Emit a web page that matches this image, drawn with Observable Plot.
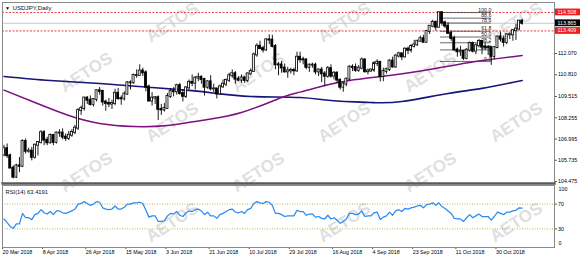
<!DOCTYPE html>
<html><head><meta charset="utf-8">
<script src="https://cdn.jsdelivr.net/npm/d3@7"></script>
<script src="https://cdn.jsdelivr.net/npm/@observablehq/plot@0.6"></script>
<style>
html,body{margin:0;padding:0;background:#fff;}
#wrap{position:relative;width:580px;height:258px;overflow:hidden;background:#fff;}
#wrap svg{position:absolute;left:0;top:0;}
</style></head><body><div id="wrap"></div>
<script>
// ---------- data ----------
const symbol = "USDJPY,Daily";
const startDate = "2018-03-20";
const open = [106.05,106.42,106.00,105.27,104.73,105.40,105.38,106.85,106.27,106.28,
105.91,106.63,106.79,107.37,106.93,106.77,107.21,106.79,107.35,107.35,
107.11,107.03,107.22,107.38,107.64,108.68,108.80,109.43,109.30,109.04,
109.34,109.86,109.82,109.19,109.11,109.07,109.11,109.71,109.39,109.38,
109.66,110.33,110.33,110.76,110.77,111.03,110.92,110.08,109.25,109.42,
109.45,108.75,108.72,108.81,109.52,109.81,109.80,110.16,109.69,109.53,
110.03,110.36,110.31,110.61,110.66,110.53,110.07,110.39,109.97,109.97,
109.67,110.09,110.25,110.48,110.75,110.87,110.55,110.49,110.62,110.47,
110.86,111.01,111.99,112.50,112.36,112.28,112.88,112.87,112.49,111.40,
111.39,111.21,110.98,111.04,111.06,111.04,111.85,111.70,111.69,111.25,
111.38,111.38,110.98,111.09,110.86,110.72,111.17,110.73,110.90,110.49,
110.07,110.26,110.55,111.26,111.24,111.07,111.20,111.69,110.99,111.03,
111.09,111.47,111.55,110.70,111.00,111.11,111.62,111.27,111.92,112.05,
111.87,112.33,112.26,112.49,112.58,112.80,112.95,112.74,113.38,113.69,
113.92,113.63,114.49,113.89,113.70,113.26,112.96,112.28,112.17,112.20,
111.78,112.27,112.66,112.21,112.53,112.79,112.45,112.43,112.42,111.90,
112.42,113.05,112.92,112.72,113.18,113.18,113.43,113.52,113.99];
const high = [106.62,106.70,106.10,105.40,105.50,105.90,106.95,107.00,106.45,106.50,
106.70,106.85,107.49,107.50,107.10,107.30,107.25,107.40,107.55,107.60,
107.30,107.45,107.55,107.80,108.80,108.95,109.45,109.50,109.55,109.40,
109.90,110.05,109.90,109.30,109.40,109.30,109.95,110.00,109.55,109.80,
110.40,110.45,110.85,111.10,111.40,111.20,111.05,110.20,109.75,109.50,
109.55,109.05,109.10,109.70,110.00,110.05,110.25,110.30,109.90,110.10,
110.50,110.80,110.70,110.90,110.75,110.60,110.45,110.75,110.25,110.00,
110.20,110.50,110.55,110.90,111.10,111.00,110.70,110.80,110.70,110.90,
111.15,112.10,112.65,112.80,112.50,112.95,113.18,113.15,112.60,111.55,
111.60,111.45,111.25,111.20,111.20,112.15,112.15,111.85,111.75,111.45,
111.50,111.50,111.15,111.25,111.00,111.30,111.40,111.00,111.00,110.55,
110.35,110.60,111.35,111.40,111.45,111.35,111.80,111.75,111.15,111.15,
111.60,111.70,111.60,111.20,111.20,111.70,111.85,112.00,112.15,112.10,
112.40,112.45,112.60,112.85,112.85,113.10,113.15,113.45,113.70,114.05,
114.00,114.55,114.55,114.00,113.90,113.40,113.10,112.40,112.50,112.25,
112.35,112.75,112.75,112.65,112.90,112.85,112.70,112.55,112.45,112.45,
113.10,113.35,113.10,113.25,113.30,113.50,113.80,114.05,114.10];
const low = [105.95,105.85,105.25,104.63,104.65,105.00,105.30,106.10,106.15,105.70,
105.80,105.99,106.70,106.60,106.60,106.70,106.60,106.70,107.10,106.95,
106.85,106.90,107.10,107.25,107.50,108.40,108.65,109.05,108.95,108.90,
109.20,109.60,108.95,108.65,108.85,108.75,108.98,109.30,109.00,109.25,
109.60,109.90,110.25,110.60,110.75,110.70,109.80,109.20,108.95,109.05,
108.10,108.40,108.60,108.75,109.40,109.50,109.60,109.60,109.20,109.40,
109.90,110.10,109.90,110.40,110.25,109.55,109.95,109.85,109.75,109.37,
109.60,110.00,110.10,110.35,110.60,110.25,110.40,110.30,110.30,110.35,
110.75,110.95,111.85,112.30,112.10,112.20,112.60,112.40,111.10,110.75,
110.90,110.90,110.60,110.85,110.75,110.95,111.50,111.40,111.10,110.95,
111.20,110.80,110.70,110.35,110.10,110.60,110.60,110.50,110.30,109.90,
109.77,110.10,110.45,111.00,110.95,110.95,111.10,110.90,110.80,110.95,
110.95,111.30,110.38,110.40,110.85,111.00,111.20,111.20,111.80,111.65,
111.80,112.00,112.10,112.40,112.50,112.75,112.70,112.70,113.20,113.60,
113.40,113.60,113.70,113.55,113.20,112.80,112.20,111.85,111.90,111.65,
111.70,112.15,112.10,112.00,112.40,112.00,112.25,111.95,111.37,111.70,
112.35,112.75,112.45,112.60,112.90,112.80,112.85,113.40,113.75];
const close = [106.42,106.00,105.27,104.73,105.40,105.38,106.85,106.27,106.28,105.91,
106.63,106.79,107.37,106.93,106.77,107.21,106.79,107.35,107.35,107.11,
107.03,107.22,107.38,107.64,108.68,108.80,109.43,109.30,109.04,109.34,
109.86,109.82,109.19,109.11,109.07,109.11,109.71,109.39,109.38,109.66,
110.33,110.33,110.76,110.77,111.03,110.92,110.08,109.25,109.42,109.45,
108.75,108.72,108.81,109.52,109.81,109.80,110.16,109.69,109.53,110.03,
110.36,110.31,110.61,110.66,110.53,110.07,110.39,109.97,109.97,109.67,
110.09,110.25,110.48,110.75,110.87,110.55,110.49,110.62,110.47,110.86,
111.01,111.99,112.50,112.36,112.28,112.88,112.87,112.49,111.40,111.39,
111.21,110.98,111.04,111.06,111.04,111.85,111.70,111.69,111.25,111.38,
111.38,110.98,111.09,110.86,110.72,111.17,110.73,110.90,110.49,110.07,
110.26,110.55,111.26,111.24,111.07,111.20,111.69,110.99,111.03,111.09,
111.47,111.55,110.70,111.00,111.11,111.62,111.27,111.92,112.05,111.87,
112.33,112.26,112.49,112.58,112.80,112.95,112.74,113.38,113.69,113.92,
113.63,114.49,113.89,113.70,113.26,112.96,112.28,112.17,112.20,111.78,
112.27,112.66,112.21,112.53,112.79,112.45,112.43,112.42,111.90,112.42,
113.05,112.92,112.72,113.18,113.18,113.43,113.52,113.99,113.865];

const purpleBars = [0,10,21,31,42,53,64,77,90,96,104,112,125,138,151,168];
const purpleVals = [109.90,109.16,108.39,107.92,107.74,107.80,108.10,108.57,109.46,109.78,110.17,110.47,110.77,111.12,111.54,111.95];
const navyBars = [0,15,31,48,60,69,80,96,106,119,129,144,155,168];
const navyVals = [110.71,110.47,110.29,110.05,109.88,109.70,109.52,109.46,109.28,109.16,109.22,109.70,110.00,110.47];

const rsi = [46,40,34,31,38,38,55,48,48,45,
53,55,61,56,54,58,53,59,59,56,
55,57,59,62,70,71,74,71,68,70,
74,73,64,62,61,62,67,62,62,65,
70,70,72,72,73,71,60,49,51,51,
42,42,43,51,55,54,58,52,50,56,
59,58,61,62,59,53,57,51,51,47,
53,55,58,61,62,57,56,58,55,61,
63,71,74,72,71,74,73,68,55,55,
53,50,51,51,51,60,58,58,52,54,
54,49,50,47,46,52,46,48,44,39,
42,46,55,55,53,54,59,50,51,51,
56,57,45,49,51,57,52,59,61,58,
63,62,64,65,67,68,64,69,70,72,
68,72,66,63,59,55,47,46,46,42,
48,53,48,51,54,50,50,50,44,50,
57,55,53,57,57,59,60,64,63.42];
const rsiLabel = "RSI(14) 63.4191";
const rsiLevels = [70, 30];
const rsiEdgeTicks = [100, 0];

const dateTicks = ["20 Mar 2018","8 Apr 2018","26 Apr 2018","15 May 2018","3 Jun 2018","21 Jun 2018","10 Jul 2018","29 Jul 2018","16 Aug 2018","4 Sep 2018","23 Sep 2018","11 Oct 2018","30 Oct 2018"];
const priceTicks = [104.475,105.735,106.995,108.255,109.515,110.810,112.070];
const alertLevels = [114.508, 113.409];
const bidPrice = 113.865;
const fibHigh = 114.50, fibLow = 111.60;
const fibFromBar = 141.5, fibToBar = 158;
const fibLevels = [100, 88.6, 78.6, 61.8, 50, 38.2, 23.6, 0];
const watermarkText = "AETOS";

// ---------- layout ----------
const W = 580, H = 258;
const XDOMAIN = [-0.5, 178.5];
const FONT = "'Liberation Sans', Arial, sans-serif";

const start = d3.utcParse("%Y-%m-%d")(startDate);
const dates = d3.utcDays(start, d3.utcDay.offset(start, 400))
  .filter(d => d.getUTCDay() !== 0 && d.getUTCDay() !== 6).slice(0, close.length);
const parseLabel = d3.utcParse("%d %b %Y");
const tickIdx = dateTicks.map(s => d3.bisectRight(dates, parseLabel(s)) - 1);
const labelByIdx = new Map(tickIdx.map((t, k) => [t, dateTicks[k]]));

const bars = close.map((c, i) => ({i, l: low[i], h: high[i], lo: Math.min(open[i], c), hi: Math.max(open[i], c), up: c >= open[i]}));
const fibs = fibLevels.map(f => ({f, p: fibLow + (fibHigh - fibLow) * f / 100}));
const purple = purpleBars.map((b, k) => ({b, v: purpleVals[k]}));
const navy = navyBars.map((b, k) => ({b, v: navyVals[k]}));
const rsiPts = rsi.map((v, i) => ({i, v}));

function watermark(index, scales, values, dims) {
  const g = d3.create("svg:g").attr("fill", "#dfdfdf").attr("font-family", FONT)
    .attr("font-weight", "bold").attr("font-size", 17).attr("text-anchor", "middle");
  for (let r = 0; r < 5; r++) {
    for (let k = 0; k < 5; k++) {
      const cx = k * 172 + (r % 2) * 86;
      const cy = 22 + r * 50;
      if (cx < 35 || cx > 545 || cy < 20 || cy > 235) continue;
      g.append("text").attr("transform", `translate(${cx},${cy}) rotate(-33)`)
        .attr("dy", "0.35em").text(watermarkText);
    }
  }
  return g.node();
}

function priceBoxes(index, scales, values, dims) {
  const g = d3.create("svg:g").attr("font-family", FONT).attr("font-size", 5.3).attr("text-anchor", "start");
  const x0 = dims.width - dims.marginRight + 1;
  const items = [
    {v: alertLevels[0], c: "#f01e1e"},
    {v: bidPrice, c: "#000"},
    {v: alertLevels[1], c: "#f01e1e"}
  ];
  for (const b of items) {
    const y = scales.y(b.v);
    g.append("rect").attr("x", x0).attr("y", y - 3.4).attr("width", dims.marginRight).attr("height", 6.8).attr("fill", b.c);
    g.append("text").attr("x", x0 + 2.5).attr("y", y).attr("dy", "0.35em").attr("fill", "#fff").text(b.v.toFixed(3));
  }
  return g.node();
}

const main = Plot.plot({
  width: W, height: H,
  marginLeft: 2, marginRight: 26, marginTop: 2, marginBottom: 75,
  x: {domain: XDOMAIN, axis: null},
  y: {domain: [104.356, 115.098], axis: null},
  style: {fontFamily: FONT, background: "transparent", overflow: "visible"},
  marks: [
    watermark,
    Plot.ruleY(alertLevels, {stroke: "#e8282c", strokeDasharray: "2,1.5", strokeWidth: 0.9}),
    Plot.ruleY([bidPrice], {stroke: "#c8c8c8", strokeWidth: 1}),
    Plot.ruleY(fibs, {y: "p", x1: fibFromBar, x2: fibToBar, stroke: "#444", strokeWidth: 0.8}),
    Plot.text(fibs, {x: fibToBar, y: "p", text: d => d.f.toFixed(1), textAnchor: "end", dy: -2.6, fontSize: 5.2, fill: "#222"}),
    Plot.line(navy, {x: "b", y: "v", stroke: "#15157a", strokeWidth: 1.6, curve: "natural"}),
    Plot.line(purple, {x: "b", y: "v", stroke: "#7e0f82", strokeWidth: 1.5, curve: "natural"}),
    Plot.ruleX(bars, {x: "i", y1: "l", y2: "h", stroke: "#000", strokeWidth: 0.9}),
    Plot.rect(bars.filter(d => d.up), {x1: d => d.i - 0.32, x2: d => d.i + 0.32, y1: "lo", y2: "hi", fill: "#fff", stroke: "#000", strokeWidth: 0.8, insetTop: -0.5, insetBottom: -0.5}),
    Plot.rect(bars.filter(d => !d.up), {x1: d => d.i - 0.32, x2: d => d.i + 0.32, y1: "lo", y2: "hi", fill: "#000", stroke: "#000", strokeWidth: 0.8, insetTop: -0.5, insetBottom: -0.5}),
    Plot.axisY(priceTicks, {anchor: "right", label: null, tickSize: 2, tickPadding: 1.5, tickFormat: d => d.toFixed(3), fontSize: 5.3, stroke: "#555"}),
    priceBoxes,
    Plot.frame({stroke: "#8a8a8a", strokeWidth: 1}),
    Plot.frame({anchor: "bottom", stroke: "#5a5a5a", strokeWidth: 2.4}),
    Plot.text(["▼"], {frameAnchor: "top-left", dx: 2.5, dy: 3.5, fontSize: 5, fill: "#000"}),
    Plot.text([symbol], {frameAnchor: "top-left", dx: 10, dy: 3, fontSize: 6.2, fill: "#111"})
  ]
});

const rsiPlot = Plot.plot({
  width: W, height: H,
  marginLeft: 2, marginRight: 26, marginTop: 185, marginBottom: 11,
  x: {domain: XDOMAIN},
  y: {domain: [0, 100]},
  style: {fontFamily: FONT, background: "transparent", overflow: "visible"},
  marks: [
    Plot.ruleY(rsiLevels, {stroke: "#b8a54e", strokeDasharray: "1,1.5", strokeWidth: 0.9}),
    Plot.line(rsiPts, {x: "i", y: "v", stroke: "#2a8cf0", strokeWidth: 1.25}),
    Plot.axisY(rsiLevels, {anchor: "right", label: null, tickSize: 2, tickPadding: 1.5, fontSize: 5.3, stroke: "#555"}),
    Plot.text([rsiEdgeTicks[0]], {y: d => d, frameAnchor: "right", dx: 4, dy: 4, textAnchor: "start", fontSize: 5.3, fill: "#000"}),
    Plot.text([rsiEdgeTicks[1]], {y: d => d, frameAnchor: "right", dx: 4, dy: -4, textAnchor: "start", fontSize: 5.3, fill: "#000"}),
    Plot.axisX(tickIdx, {anchor: "bottom", label: null, tickSize: 2, tickPadding: 1, tickFormat: d => labelByIdx.get(d), textAnchor: "start", dx: -1.5, fontSize: 5.3, stroke: "#555"}),
    Plot.frame({stroke: "#8a8a8a", strokeWidth: 1}),
    Plot.text([rsiLabel], {frameAnchor: "top-left", dx: 3, dy: 4, fontSize: 5.8, fill: "#111"})
  ]
});

const wrap = document.getElementById("wrap");
wrap.appendChild(main);
wrap.appendChild(rsiPlot);
</script>
</body></html>
